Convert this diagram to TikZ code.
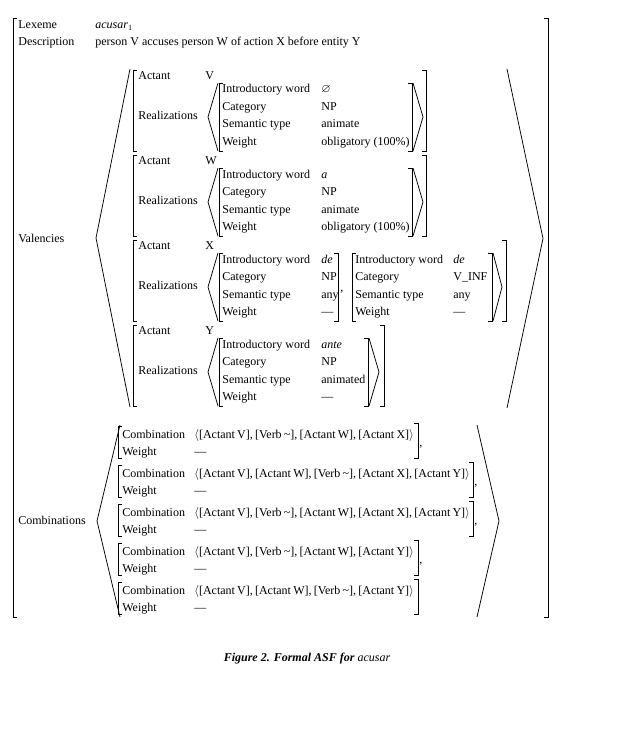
\documentclass[tikz,border=0pt]{standalone}
\usepackage{amssymb}
\usepackage{fontspec}
\setmainfont{Liberation Serif}
\usetikzlibrary{math}
% square brackets and angle brackets, in pixel units
\def\sqL#1#2#3{\draw (#1+4,#2) -- (#1,#2) -- (#1,#3) -- (#1+4,#3);}
\def\sqR#1#2#3{\draw (#1-4,#2) -- (#1,#2) -- (#1,#3) -- (#1-4,#3);}
\def\angb#1#2#3#4{\draw (#1,#3) -- (#2,{(#3+#4)/2}) -- (#1,#4);}
\def\tld{\textasciitilde}
\def\tightsp{\spaceskip=2.2pt plus 1pt\relax}

\begin{document}
\begin{tikzpicture}[x=1pt,y=-1pt,line width=0.75pt,
	every node/.style={anchor=base west,inner sep=0pt,font=\fontsize{12}{14}\selectfont},
	combval/.style={font={\fontsize{12}{14}\selectfont\tightsp}}]
	\useasboundingbox (0,0) rectangle (618,733);
	\tikzmath{\lx=138; \vx=205; \ix=222; \wx=321; \cx=122; \cvx=194;}
	% outer frame
	\sqL{13}{18}{617}
	\sqR{548}{18}{617}
	\node (lex) at (18,28.5) {Lexeme};
	\node (lexval) at (95,28.5) {\textit{acusar}$_1$};
	\node (desc) at (18,46) {Description};
	\node (descval) at (95,46) {person V accuses person W of action X before entity Y};

	% valencies
	\node (val) at (18,242) {Valencies};
	\angb{130}{96}{69}{407}
	\angb{507}{543}{69}{408}

	\begin{scope}[shift={(0,70)}]
	\sqL{133}{0}{81} \sqR{426}{0}{81}
	\node (actV) at (\lx,9.5) {Actant};
	\node (actVval) at (\vx,9.5) {V};
	\node (realV) at (\lx,49.5) {Realizations};
	\angb{218}{208}{13}{81} \sqL{219}{13}{81}
	\node (introV) at (\ix,23) {Introductory word};
	\node (catV) at (\ix,40.5) {Category};
	\node (semV) at (\ix,58) {Semantic type};
	\node (wV) at (\ix,75.5) {Weight};
	\node (introVval) at (\wx,23) {$\varnothing$};
	\node (catVval) at (\wx,40.5) {NP};
	\node (semVval) at (\wx,58) {animate};
	\node (wVval) at (\wx,75.5) {obligatory (100\%)};
	\sqR{412}{13}{81} \angb{413}{423}{13}{81}
	\end{scope}

	\begin{scope}[shift={(0,155)}]
	\sqL{133}{0}{81} \sqR{426}{0}{81}
	\node (actW) at (\lx,9.5) {Actant};
	\node (actWval) at (\vx,9.5) {W};
	\node (realW) at (\lx,49.5) {Realizations};
	\angb{218}{208}{13}{81} \sqL{219}{13}{81}
	\node (introW) at (\ix,23) {Introductory word};
	\node (catW) at (\ix,40.5) {Category};
	\node (semW) at (\ix,58) {Semantic type};
	\node (wW) at (\ix,75.5) {Weight};
	\node (introWval) at (\wx,23) {\textit{a}};
	\node (catWval) at (\wx,40.5) {NP};
	\node (semWval) at (\wx,58) {animate};
	\node (wWval) at (\wx,75.5) {obligatory (100\%)};
	\sqR{412}{13}{81} \angb{413}{423}{13}{81}
	\end{scope}

	\begin{scope}[shift={(0,240)}]
	\sqL{133}{0}{81} \sqR{506}{0}{81}
	\node (actX) at (\lx,9.5) {Actant};
	\node (actXval) at (\vx,9.5) {X};
	\node (realX) at (\lx,49.5) {Realizations};
	\angb{218}{208}{13}{81} \sqL{219}{13}{81}
	\node (introX) at (\ix,23) {Introductory word};
	\node (catX) at (\ix,40.5) {Category};
	\node (semX) at (\ix,58) {Semantic type};
	\node (wX) at (\ix,75.5) {Weight};
	\node (introXval) at (\wx,23) {\textit{de}};
	\node (catXval) at (\wx,40.5) {NP};
	\node (semXval) at (\wx,58) {any};
	\node (wXval) at (\wx,75.5) {—};
	\sqR{338}{13}{81}
	\node (commaX) at (340,51) {,};
	\sqL{352}{13}{81}
	\node (introXb) at (355,23) {Introductory word};
	\node (catXb) at (355,40.5) {Category};
	\node (semXb) at (355,58) {Semantic type};
	\node (wXb) at (355,75.5) {Weight};
	\node (introXbval) at (453,23) {\textit{de}};
	\node (catXbval) at (453,40.5) {V\_INF};
	\node (semXbval) at (453,58) {any};
	\node (wXbval) at (453,75.5) {—};
	\sqR{492}{13}{81} \angb{493}{502}{13}{81}
	\end{scope}

	\begin{scope}[shift={(0,325)}]
	\sqL{133}{0}{81} \sqR{384}{0}{81}
	\node (actY) at (\lx,9.5) {Actant};
	\node (actYval) at (\vx,9.5) {Y};
	\node (realY) at (\lx,49.5) {Realizations};
	\angb{218}{208}{13}{81} \sqL{219}{13}{81}
	\node (introY) at (\ix,23) {Introductory word};
	\node (catY) at (\ix,40.5) {Category};
	\node (semY) at (\ix,58) {Semantic type};
	\node (wY) at (\ix,75.5) {Weight};
	\node (introYval) at (\wx,23) {\textit{ante}};
	\node (catYval) at (\wx,40.5) {NP};
	\node (semYval) at (\wx,58) {animated};
	\node (wYval) at (\wx,75.5) {—};
	\sqR{368}{13}{81} \angb{369}{379}{13}{81}
	\end{scope}

	% combinations
	\node (comb) at (18,524.5) {Combinations};
	\angb{120}{97}{425}{617}
	\angb{477}{499}{425}{617}

	\begin{scope}[shift={(0,426)}]
	\sqL{118}{0}{32} \sqR{418}{-3}{32}
	\node (combA) at (\cx,12) {Combination};
	\node (wA) at (\cx,29.5) {Weight};
	\node[combval] (combAval) at (\cvx,12) {$\langle$[Actant V], [Verb \tld], [Actant W], [Actant X]$\rangle$};
	\node (wAval) at (\cvx,29.5) {—};
	\node (commaA) at (419,20) {,};
	\end{scope}

	\begin{scope}[shift={(0,465)}]
	\sqL{118}{0}{32} \sqR{473}{-3}{32}
	\node (combB) at (\cx,12) {Combination};
	\node (wB) at (\cx,29.5) {Weight};
	\node[combval] (combBval) at (\cvx,12) {$\langle$[Actant V], [Actant W], [Verb \tld], [Actant X], [Actant Y]$\rangle$};
	\node (wBval) at (\cvx,29.5) {—};
	\node (commaB) at (474,20) {,};
	\end{scope}

	\begin{scope}[shift={(0,504)}]
	\sqL{118}{0}{32} \sqR{473}{-3}{32}
	\node (combC) at (\cx,12) {Combination};
	\node (wC) at (\cx,29.5) {Weight};
	\node[combval] (combCval) at (\cvx,12) {$\langle$[Actant V], [Verb \tld], [Actant W], [Actant X], [Actant Y]$\rangle$};
	\node (wCval) at (\cvx,29.5) {—};
	\node (commaC) at (474,20) {,};
	\end{scope}

	\begin{scope}[shift={(0,543)}]
	\sqL{118}{0}{32} \sqR{418}{-3}{32}
	\node (combD) at (\cx,12) {Combination};
	\node (wD) at (\cx,29.5) {Weight};
	\node[combval] (combDval) at (\cvx,12) {$\langle$[Actant V], [Verb \tld], [Actant W], [Actant Y]$\rangle$};
	\node (wDval) at (\cvx,29.5) {—};
	\node (commaD) at (419,20) {,};
	\end{scope}

	\begin{scope}[shift={(0,582)}]
	\sqL{118}{0}{32} \sqR{418}{-3}{32}
	\node (combE) at (\cx,12) {Combination};
	\node (wE) at (\cx,29.5) {Weight};
	\node[combval] (combEval) at (\cvx,12) {$\langle$[Actant V], [Actant W], [Verb \tld], [Actant Y]$\rangle$};
	\node (wEval) at (\cvx,29.5) {—};
	\end{scope}

	\node (caption) at (307,661) [anchor=base] {\textbf{\textit{Figure 2. Formal ASF for}} \textit{acusar}};
\end{tikzpicture}
\end{document}
